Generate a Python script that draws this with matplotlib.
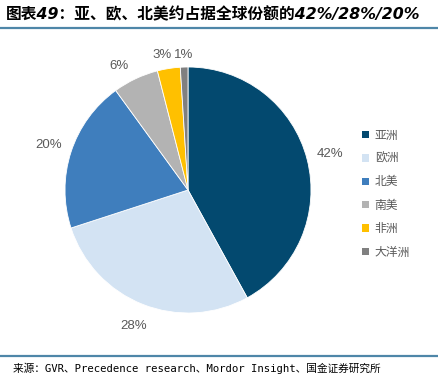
import matplotlib
matplotlib.use("Agg")
import numpy as np
import matplotlib.pyplot as plt
from matplotlib.patches import Patch
from matplotlib.lines import Line2D

plt.rcParams['font.family'] = ['Noto Sans CJK SC', 'DejaVu Sans']

regions = ['亚洲', '欧洲', '北美', '南美', '非洲', '大洋洲']
shares = [42, 28, 20, 6, 3, 1]
colors = ['#03496f', '#d3e3f3', '#3f7ebd', '#b3b3b3', '#ffc000', '#808080']
title = '图表49：亚、欧、北美约占据全球份额的42%/28%/20%'
source = '来源：GVR、Precedence research、Mordor Insight、国金证券研究所'
label_dist = [1.19, 1.19, 1.19, 1.155, 1.12, 1.10]
label_rot = [0, 0, 0, 4, 2, 0]

W, H = 438, 383
fig = plt.figure(figsize=(W / 100, H / 100), dpi=100)
fig.patch.set_facecolor('white')

L = 1.4
R = 123
cx, cy = 188, 190
side = 2 * L * R
ax = fig.add_axes([(cx - side / 2) / W, (H - cy - side / 2) / H, side / W, side / H])
wedges, texts = ax.pie(shares, colors=colors, startangle=90, counterclock=False,
                       labels=[f'{v}%' for v in shares], labeldistance=1.19,
                       wedgeprops=dict(edgecolor='white', linewidth=0.6),
                       textprops=dict(color='#595959', fontsize=9.5,
                                      family=['Liberation Sans', 'DejaVu Sans']))
for w, t, d, r in zip(wedges, texts, label_dist, label_rot):
    ang = np.deg2rad((w.theta1 + w.theta2) / 2 + r)
    t.set_position((d * np.cos(ang), d * np.sin(ang)))
    t.set_horizontalalignment('center')
    t.set_verticalalignment('center')
ax.set_xlim(-L, L)
ax.set_ylim(-L, L)
ax.set_aspect('equal')
ax.axis('off')

handles = [Patch(facecolor=c, edgecolor='none') for c in colors]
leg = fig.legend(handles, regions, loc='upper left', bbox_to_anchor=(357 / W, 1 - 124 / H),
                 frameon=False, fontsize=8.5, handlelength=0.6, handleheight=0.6,
                 handletextpad=0.5, labelspacing=0.88, borderaxespad=0)
for t in leg.get_texts():
    t.set_color('#595959')

fig.text(6 / W, 1 - 15 / H, title, fontsize=11.3, fontweight='bold', fontstyle='italic',
         family=['DejaVu Sans', 'Noto Sans CJK SC'],
         color='black', ha='left', va='center')
fig.add_artist(Line2D([0, 1], [1 - 27.5 / H] * 2, color='#4e86a8', linewidth=1.6))
fig.add_artist(Line2D([0, 1], [1 - 356 / H] * 2, color='#4e86a8', linewidth=1.6))
fig.text(13 / W, 1 - 368 / H, source, fontsize=7.7, color='black', ha='left', va='center',
         family=['DejaVu Sans Mono', 'Noto Sans CJK SC'])

fig.savefig('out.png', dpi=100, facecolor='white')
